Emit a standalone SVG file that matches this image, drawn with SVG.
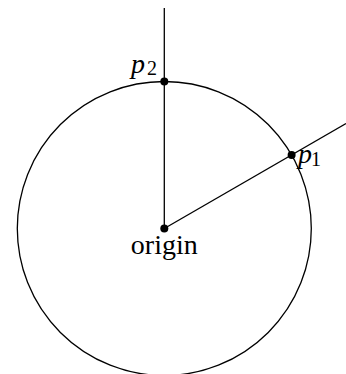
<svg xmlns="http://www.w3.org/2000/svg" width="346" height="374" viewBox="0 0 346 374">
<style>
.ln{fill:none;stroke:#000;stroke-width:1.3}
.dot{fill:#000}
.t{font-family:"Liberation Serif","DejaVu Serif",serif;font-size:28px;fill:#000}
.i{font-style:italic}
.s{font-size:20px;font-style:normal}
</style>
<rect width="346" height="374" fill="#fff"/>
<g id="circle"><circle class="ln" cx="164.3" cy="228.5" r="147"/></g>
<g id="connectors">
<line class="ln" x1="164.3" y1="228.5" x2="164.3" y2="8"/>
<line class="ln" x1="164.3" y1="228.5" x2="346" y2="123.6"/>
</g>
<g id="origin"><circle class="dot" cx="164.3" cy="228.5" r="4"/><text class="t" x="164.3" y="254" text-anchor="middle">origin</text></g>
<g id="p2"><circle class="dot" cx="164.3" cy="81.5" r="4"/><text class="t i" x="131" y="73">p<tspan class="s" x="147" y="75">2</tspan></text></g>
<g id="p1"><circle class="dot" cx="291.6" cy="155" r="4"/><text class="t i" x="298" y="163">p<tspan class="s" x="311" y="166">1</tspan></text></g>
</svg>
